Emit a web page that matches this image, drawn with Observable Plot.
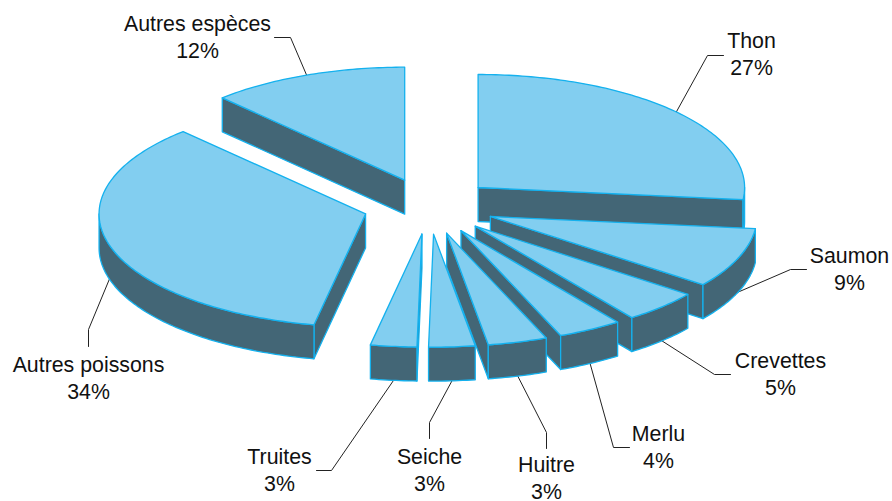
<!DOCTYPE html>
<html><head><meta charset="utf-8">
<script src="https://cdn.jsdelivr.net/npm/d3@7"></script>
<script src="https://cdn.jsdelivr.net/npm/@observablehq/plot@0.6"></script>
<style>html,body{margin:0;padding:0;background:#fff}svg{display:block}</style>
</head><body><div id="chart"></div>
<script>
const categories = ["Thon","Saumon","Crevettes","Merlu","Huitre","Seiche","Truites","Autres poissons","Autres espèces"];
const percentLabels = ["27%","9%","5%","4%","3%","3%","3%","34%","12%"];
const shares = [26.7,8.6,4.7,3.9,3.6,2.8,2.8,34.9,12];

// Pie projection (tilted ellipse, every slice pulled out by the same amount)
const W = 892, H = 501;
const pie = {cx:428.5, cy:205.7, rx:266.5, ry:113, depth:34, explode:66/266.5};
// Label layout: leader elbow points and text centre, by category order
const leaderBends = [
  [[707,55],[723,55]],
  [[790,269],[806,269]],
  [[714,374],[730,374]],
  [[613,447],[629,447]],
  [[546,432],[546,448]],
  [[429,422],[429,438]],
  [[331,470],[316,470]],
  [[88,329],[88,346]],
  [[290,37],[274,37]]
];
const labelPos = [[751,41],[849,256],[780,361],[658,434],[546,465],[429,457],[279,457],[88,365],[197,24]];

const total = d3.sum(shares);
let acc = 0;
const slices = categories.map((name,i)=>{
  const a0 = acc/total*2*Math.PI; acc += shares[i];
  const a1 = acc/total*2*Math.PI;
  const mid = (a0+a1)/2;
  return {i,name,label:percentLabels[i],a0,a1,mid,
    ax:pie.cx+pie.explode*pie.rx*Math.sin(mid),
    ay:pie.cy-pie.explode*pie.ry*Math.cos(mid)};
});
const edge=(s,a,z=0)=>({x:s.ax+pie.rx*Math.sin(a),y:s.ay-pie.ry*Math.cos(a)+z});
const arc=(s,a0,a1,z=0)=>{
  const n=Math.max(2,Math.ceil(Math.abs(a1-a0)*60));
  return d3.range(n+1).map(k=>edge(s,a0+(a1-a0)*k/n,z));
};
const faces=[];
let id=0;
const addFace=(pts,kind)=>{const f=id++;pts.forEach(p=>faces.push({...p,f,kind}));};
const order=[...slices].sort((p,q)=>Math.cos(q.mid)-Math.cos(p.mid));
order.forEach(s=>{
  const apex={x:s.ax,y:s.ay}, apexB={x:s.ax,y:s.ay+pie.depth};
  const wall=(a,sign)=>{ // sign +1: end wall, -1: start wall; visible if its normal points down
    if(sign*Math.sin(a)>0){addFace([apex,edge(s,a),edge(s,a,pie.depth),apexB,apex],"side");}
  };
  wall(s.a0,-1); wall(s.a1,1);
  const lo=Math.max(s.a0,Math.PI/2), hi=Math.min(s.a1,Math.PI*1.5);
  if(hi>lo) addFace([...arc(s,lo,hi),...arc(s,hi,lo,pie.depth),edge(s,lo)],"side");
  addFace([apex,...arc(s,s.a0,s.a1),apex],"top");
});
const leaders=[];
slices.forEach(s=>{
  const start=edge(s,s.mid,Math.cos(s.mid)<0?pie.depth:0);
  [start,...leaderBends[s.i].map(([x,y])=>({x,y}))].forEach(p=>leaders.push({...p,i:s.i}));
});
const labels=slices.flatMap(s=>[
  {x:labelPos[s.i][0],y:labelPos[s.i][1],t:s.name},
  {x:labelPos[s.i][0],y:labelPos[s.i][1]+27,t:s.label}
]);
const chart=Plot.plot({
  width:W,height:H,margin:0,
  x:{domain:[0,W],range:[0,W],axis:null},
  y:{domain:[0,H],range:[0,H],axis:null},
  marks:[
    Plot.line(leaders,{x:"x",y:"y",z:"i",stroke:"#222",strokeWidth:1,curve:"linear"}),
    Plot.line(faces,{x:"x",y:"y",z:"f",curve:"linear",
      fill:d=>d.kind==="top"?"#82CEF0":"#436676",stroke:"#14B1EE",strokeWidth:1.3,strokeLinejoin:"round"}),
    Plot.text(labels,{x:"x",y:"y",text:"t",fontSize:21.33,fill:"#111",textAnchor:"middle",lineAnchor:"middle",fontFamily:"Liberation Sans"})
  ]
});
document.getElementById("chart").append(chart);
</script></body></html>
